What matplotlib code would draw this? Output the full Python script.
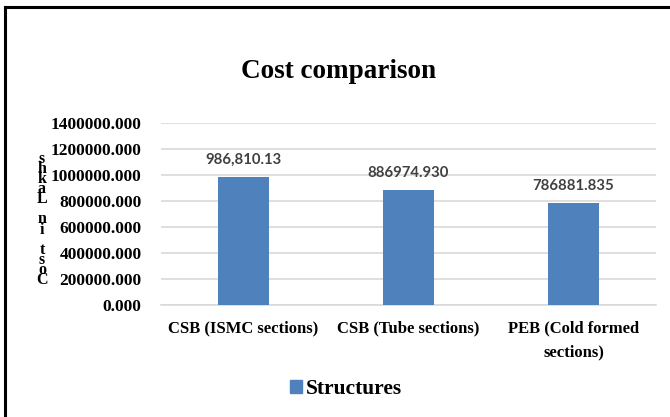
import matplotlib.pyplot as plt
from matplotlib.patches import Rectangle
from matplotlib.lines import Line2D

# data
categories = ["CSB (ISMC sections)", "CSB (Tube sections)", "PEB (Cold formed\nsections)"]
costs = [986810.13, 886974.930, 786881.835]
cost_labels = ["986,810.13", "886974.930", "786881.835"]
y_ticks = [0, 200000, 400000, 600000, 800000, 1000000, 1200000, 1400000]
series_name = "Structures"
y_title = "Cost in Lakhs"

blue = "#4f81bd"
serif = "Liberation Serif"

fig = plt.figure(figsize=(6.7, 4.17), dpi=100)
ax = fig.add_axes([161 / 670, 1 - 305 / 417, (656 - 161) / 670, (305 - 123) / 417])

x = list(range(len(categories)))
bars = ax.bar(x, costs, width=0.31, color=blue, label=series_name, zorder=3)

ax.set_xlim(-0.5, len(categories) - 0.5)
ax.set_ylim(0, 1400000)
ax.set_yticks(y_ticks)
ax.set_yticklabels([f"{v:.3f}" for v in y_ticks], fontfamily=serif,
                   fontweight="bold", fontsize=12.5)
ax.set_xticks(x)
ax.set_xticklabels(categories, fontfamily=serif, fontweight="bold", fontsize=12,
                   linespacing=1.7)
ax.tick_params(axis="both", length=0)
ax.tick_params(axis="y", pad=14)
ax.tick_params(axis="x", pad=11)
ax.yaxis.grid(True, color="#d9d9d9", linewidth=1.2, zorder=0)
for side in ["top", "right", "left"]:
    ax.spines[side].set_visible(False)
ax.spines["bottom"].set_color("#d9d9d9")
ax.spines["bottom"].set_linewidth(1.2)

# data labels
for b, lab in zip(bars, cost_labels):
    ax.annotate(lab, (b.get_x() + b.get_width() / 2, b.get_height()),
                xytext=(0, 12), textcoords="offset points", ha="center",
                va="center", fontfamily="Lato", fontweight="bold",
                fontsize=10.7, color="#404040")

# y axis title, letters stacked bottom-to-top, one text per letter
letters = list(reversed(y_title))
top_y, bottom_y = 159, 280
step = (bottom_y - top_y) / (len(letters) - 1)
for i, ch in enumerate(letters):
    fig.text(42 / 670, 1 - (top_y + i * step) / 417, ch, ha="center",
             va="center", fontfamily=serif, fontweight="bold", fontsize=11.5)

fig.text(339 / 670, 1 - 71 / 417, "Cost comparison", ha="center", va="center",
         fontfamily=serif, fontweight="bold", fontsize=19.5)

fig.legend(handles=[Rectangle((0, 0), 1, 1, color=blue)], labels=[series_name],
           loc="center", bbox_to_anchor=(346 / 670, 1 - 389 / 417), frameon=False,
           prop={"family": serif, "weight": "bold", "size": 15.5},
           handlelength=0.55, handleheight=0.55, handletextpad=0.2)

# outer frame
fig.add_artist(Line2D([5 / 670, 1], [1 - 7 / 417, 1 - 7 / 417], color="black",
                      linewidth=2.2, transform=fig.transFigure))
fig.add_artist(Line2D([5 / 670, 5 / 670], [0, 1 - 7 / 417], color="black",
                      linewidth=2.2, transform=fig.transFigure))

fig.savefig("out.png", dpi=100)
